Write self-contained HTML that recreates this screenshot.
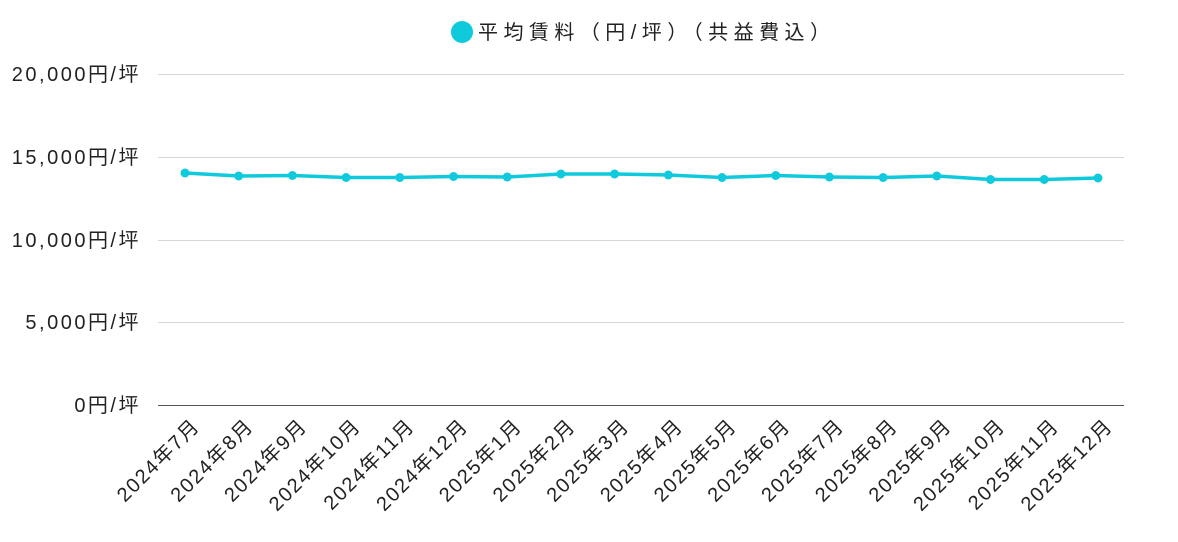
<!DOCTYPE html>
<html><head><meta charset="utf-8"><style>
html,body{margin:0;padding:0;background:#fff;}
svg text{font-family:"Liberation Sans","Noto Sans CJK JP",sans-serif;fill:#222;}
</style></head><body>
<svg width="1178" height="537" viewBox="0 0 1178 537" xmlns="http://www.w3.org/2000/svg">
<circle cx="462" cy="32" r="11" fill="#0fc9dd"/>
<text x="478" y="39" font-size="20" textLength="352" lengthAdjust="spacing">平均賃料（円/坪）（共益費込）</text>
<g stroke="#d6d6d6" stroke-width="1">
<line x1="158" y1="74.5" x2="1124" y2="74.5"/>
<line x1="158" y1="157.5" x2="1124" y2="157.5"/>
<line x1="158" y1="240.5" x2="1124" y2="240.5"/>
<line x1="158" y1="322.5" x2="1124" y2="322.5"/>
</g>
<line x1="158" y1="405.5" x2="1124" y2="405.5" stroke="#555" stroke-width="1"/>
<g font-size="20" text-anchor="end" letter-spacing="2.5">
<text x="141" y="81">20,000円/坪</text>
<text x="141" y="164">15,000円/坪</text>
<text x="141" y="247">10,000円/坪</text>
<text x="141" y="329">5,000円/坪</text>
<text x="141" y="412">0円/坪</text>
</g>
<polyline fill="none" stroke="#0fc9dd" stroke-width="3.5" stroke-linejoin="round" points="185,173 238.7,176 292.4,175.5 346.1,177.5 399.8,177.5 453.5,176.5 507.2,177 560.9,174 614.6,174 668.3,175 722,177.5 775.7,175.5 829.4,177 883.1,177.5 936.8,176 990.5,179.5 1044.2,179.5 1098,178"/>
<g fill="#0fc9dd">
<circle cx="185" cy="173" r="4.5"/><circle cx="238.7" cy="176" r="4.5"/><circle cx="292.4" cy="175.5" r="4.5"/><circle cx="346.1" cy="177.5" r="4.5"/><circle cx="399.8" cy="177.5" r="4.5"/><circle cx="453.5" cy="176.5" r="4.5"/><circle cx="507.2" cy="177" r="4.5"/><circle cx="560.9" cy="174" r="4.5"/><circle cx="614.6" cy="174" r="4.5"/><circle cx="668.3" cy="175" r="4.5"/><circle cx="722" cy="177.5" r="4.5"/><circle cx="775.7" cy="175.5" r="4.5"/><circle cx="829.4" cy="177" r="4.5"/><circle cx="883.1" cy="177.5" r="4.5"/><circle cx="936.8" cy="176" r="4.5"/><circle cx="990.5" cy="179.5" r="4.5"/><circle cx="1044.2" cy="179.5" r="4.5"/><circle cx="1098" cy="178" r="4.5"/>
</g>
<g font-size="20" text-anchor="end" letter-spacing="1.7">
<text transform="translate(201,427) rotate(-45)">2024年7月</text>
<text transform="translate(254.7,427) rotate(-45)">2024年8月</text>
<text transform="translate(308.4,427) rotate(-45)">2024年9月</text>
<text transform="translate(362.1,427) rotate(-45)">2024年10月</text>
<text transform="translate(415.8,427) rotate(-45)">2024年11月</text>
<text transform="translate(469.5,427) rotate(-45)">2024年12月</text>
<text transform="translate(523.2,427) rotate(-45)">2025年1月</text>
<text transform="translate(576.9,427) rotate(-45)">2025年2月</text>
<text transform="translate(630.6,427) rotate(-45)">2025年3月</text>
<text transform="translate(684.3,427) rotate(-45)">2025年4月</text>
<text transform="translate(738,427) rotate(-45)">2025年5月</text>
<text transform="translate(791.7,427) rotate(-45)">2025年6月</text>
<text transform="translate(845.4,427) rotate(-45)">2025年7月</text>
<text transform="translate(899.1,427) rotate(-45)">2025年8月</text>
<text transform="translate(952.8,427) rotate(-45)">2025年9月</text>
<text transform="translate(1006.5,427) rotate(-45)">2025年10月</text>
<text transform="translate(1060.2,427) rotate(-45)">2025年11月</text>
<text transform="translate(1114,427) rotate(-45)">2025年12月</text>
</g>
</svg>
</body></html>
